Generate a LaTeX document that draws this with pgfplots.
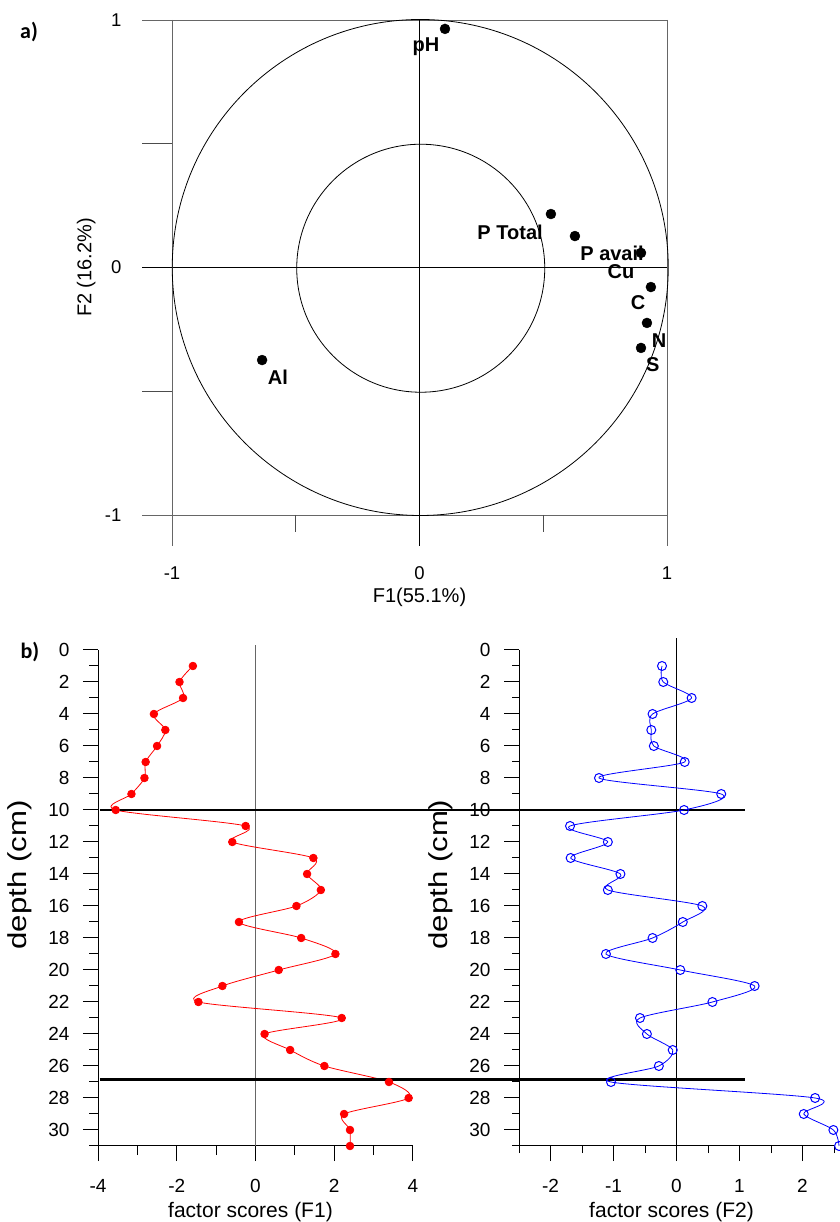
\documentclass[border=0pt]{standalone}
\usepackage{fontspec}
\setmainfont{Liberation Sans}
\newfontfamily\carlito{Carlito}
\usepackage{pgfplots}
\pgfplotsset{compat=1.18}
\begin{document}
\begin{tikzpicture}[x=1pt,y=1pt]
\path[use as bounding box] (0,0) rectangle (839,1222);
\node[font=\carlito\bfseries\fontsize{22}{22}\selectfont] at (29,1190) {a)};
\node[font=\carlito\bfseries\fontsize{22}{22}\selectfont] at (30,570) {b)};

% ---------------- panel a ----------------
\begin{axis}[at={(172pt,707pt)}, anchor=south west, width=495pt, height=495pt,
  scale only axis, xmin=-1, xmax=1, ymin=-1, ymax=1, hide axis, clip=false]
\draw[black!60, line width=0.9pt] (axis cs:-1.12,1) -- (axis cs:1,1);
\draw[black!60, line width=0.9pt] (axis cs:-1.12,-1) -- (axis cs:1,-1);
\draw[black, line width=0.8pt] (axis cs:-1.12,0) -- (axis cs:1,0);
\draw[black!60, line width=0.9pt] (axis cs:-1,1) -- (axis cs:-1,-1.127);
\draw[black!60, line width=0.9pt] (axis cs:1,1) -- (axis cs:1,-1.127);
\draw[black, line width=0.8pt] (axis cs:0,1) -- (axis cs:0,-1.127);
\draw[black!70, line width=0.9pt] (axis cs:-0.5,-1) -- (axis cs:-0.5,-1.067);
\draw[black!70, line width=0.9pt] (axis cs:0.5,-1) -- (axis cs:0.5,-1.067);
\draw[black!70, line width=0.9pt] (axis cs:-1.12,0.5) -- (axis cs:-1,0.5);
\draw[black!70, line width=0.9pt] (axis cs:-1.12,-0.5) -- (axis cs:-1,-0.5);
\draw[black, line width=0.8pt] (axis cs:0.003,0) circle[radius=248pt];
\draw[black, line width=0.8pt] (axis cs:0.005,-0.003) circle[radius=124pt];
\begin{scope}[font=\fontsize{18.5}{18.5}\selectfont]
\node[anchor=east] at (axis cs:-1.19,1) {1};
\node[anchor=east] at (axis cs:-1.19,0) {0};
\node[anchor=east] at (axis cs:-1.19,-1) {-1};
\node at (axis cs:-1,-1.234) {-1};
\node at (axis cs:0,-1.234) {0};
\node at (axis cs:1,-1.234) {1};
\end{scope}
\node[font=\fontsize{20}{20}\selectfont] at (axis cs:0,-1.331) {F1(55.1\%)};
\node[font=\fontsize{20}{20}\selectfont, rotate=90] at (axis cs:-1.347,0) {F2 (16.2\%)};
\addplot[only marks, mark=*, mark size=5pt, black] coordinates {
 (0.103,0.964) (0.531,0.216) (0.628,0.127) (0.895,0.059)
 (0.935,-0.079) (0.919,-0.224) (0.895,-0.325) (-0.636,-0.374)};
\begin{scope}[font=\bfseries\fontsize{20}{20}\selectfont]
\node at (axis cs:0.026,0.891) {pH};
\node at (axis cs:0.366,0.143) {P Total};
\node at (axis cs:0.778,0.059) {P avail};
\node at (axis cs:0.814,-0.018) {Cu};
\node at (axis cs:0.883,-0.143) {C};
\node at (axis cs:0.968,-0.297) {N};
\node at (axis cs:0.943,-0.394) {S};
\node at (axis cs:-0.572,-0.442) {Al};
\end{scope}
\end{axis}

% ---------------- panel b left ----------------
\begin{axis}[at={(98pt,76pt)}, anchor=south west, width=315pt, height=496pt,
  scale only axis, xmin=-4, xmax=4, ymin=-31, ymax=0,
  axis x line*=bottom, axis y line*=left,
  axis line style={-, line width=1pt, black},
  tick style={black, line width=1pt}, tick align=outside,
  major tick length=15pt, minor tick length=9pt,
  xtick={-4,-2,0,2,4}, minor xtick={-3,-1,1,3},
  ytick={-30,-28,...,0},
  yticklabels={30,28,26,24,22,20,18,16,14,12,10,8,6,4,2,0},
  minor ytick={-31,-29,...,-1},
  ticklabel style={font=\fontsize{19}{19}\selectfont},
  /pgf/number format/assume math mode=true,
  yticklabel style={xshift=-10pt}, xticklabel style={yshift=-15pt},
  clip=false]
\draw[black!60, line width=1pt] (axis cs:0,0.31) -- (axis cs:0,-31);
\addplot[red, line width=0.8pt, smooth, mark=*, mark size=3.8pt, mark options={solid, fill=red}] coordinates {
 (-1.59,-1) (-1.93,-2) (-1.84,-3) (-2.58,-4) (-2.29,-5) (-2.50,-6) (-2.79,-7) (-2.82,-8)
 (-3.15,-9) (-3.55,-10) (-0.25,-11) (-0.59,-12) (1.47,-13) (1.31,-14) (1.66,-15) (1.04,-16)
 (-0.42,-17) (1.16,-18) (2.03,-19) (0.59,-20) (-0.84,-21) (-1.45,-22) (2.19,-23) (0.23,-24)
 (0.88,-25) (1.75,-26) (3.39,-27) (3.89,-28) (2.25,-29) (2.40,-30) (2.40,-31)};
\draw[black, line width=2.5pt] (axis cs:-3.95,-10) -- (axis cs:12.42,-10);
\draw[black, line width=2.5pt] (axis cs:-3.95,-26.85) -- (axis cs:12.42,-26.85);
\node[font=\fontsize{21}{21}\selectfont, anchor=base] at (axis cs:0,-31) [yshift=-71pt, xshift=-5pt] {factor scores (F1)};
\node[font=\fontsize{26}{26}\selectfont, rotate=90] at (axis cs:-5.98,-14.06) {\scalebox{1.2}[1]{depth (cm)}};
\end{axis}

% ---------------- panel b right ----------------
\begin{axis}[at={(519pt,76pt)}, anchor=south west, width=315pt, height=496pt,
  scale only axis, xmin=-2.5, xmax=2.5, ymin=-31, ymax=0,
  axis x line*=bottom, axis y line*=left,
  axis line style={-, line width=1pt, black},
  tick style={black, line width=1pt}, tick align=outside,
  major tick length=15pt, minor tick length=7pt,
  xtick={-2,-1,0,1,2}, minor xtick={-2.5,-1.5,-0.5,0.5,1.5,2.5},
  ytick={-30,-28,...,0},
  yticklabels={30,28,26,24,22,20,18,16,14,12,10,8,6,4,2,0},
  minor ytick={-31,-29,...,-1},
  ticklabel style={font=\fontsize{19}{19}\selectfont},
  /pgf/number format/assume math mode=true,
  yticklabel style={xshift=-10pt}, xticklabel style={yshift=-15pt},
  clip=false]
\draw[black, line width=0.8pt] (axis cs:0,0.73) -- (axis cs:0,-31);
\addplot[blue, line width=0.8pt, smooth, mark=o, mark size=4.5pt, mark options={solid, line width=1pt}] coordinates {
 (-0.23,-1) (-0.21,-2) (0.24,-3) (-0.38,-4) (-0.40,-5) (-0.36,-6) (0.13,-7) (-1.23,-8)
 (0.71,-9) (0.12,-10) (-1.69,-11) (-1.09,-12) (-1.68,-13) (-0.89,-14) (-1.09,-15) (0.41,-16)
 (0.10,-17) (-0.38,-18) (-1.12,-19) (0.06,-20) (1.24,-21) (0.57,-22) (-0.58,-23) (-0.47,-24)
 (-0.06,-25) (-0.28,-26) (-1.04,-27) (2.20,-28) (2.02,-29) (2.49,-30) (2.58,-31)};
\node[font=\fontsize{21}{21}\selectfont, anchor=base] at (axis cs:0,-31) [yshift=-71pt, xshift=-5pt] {factor scores (F2)};
\node[font=\fontsize{26}{26}\selectfont, rotate=90] at (axis cs:-3.74,-14.06) {\scalebox{1.2}[1]{depth (cm)}};
\end{axis}
\end{tikzpicture}
\end{document}
